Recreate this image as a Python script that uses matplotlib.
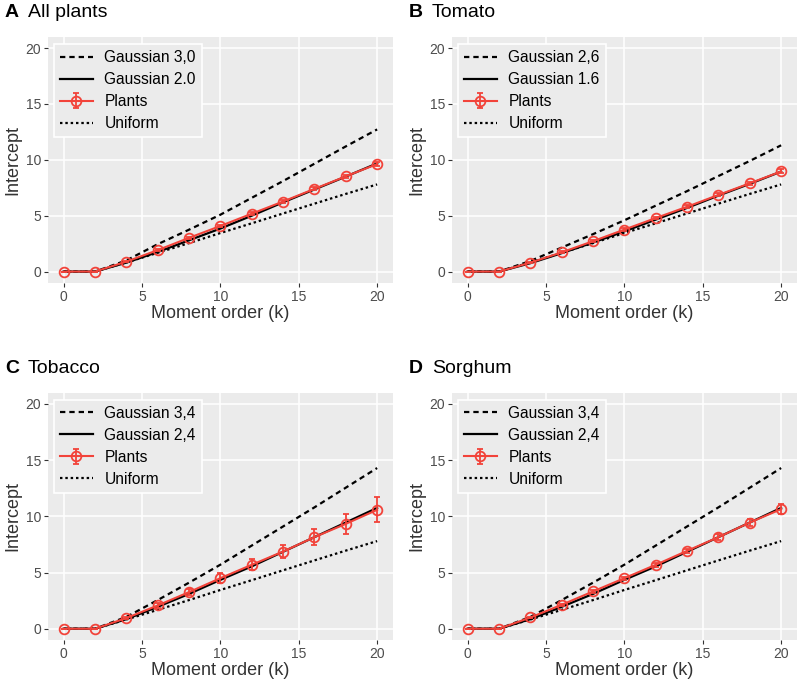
import numpy as np
import matplotlib
matplotlib.use("Agg")
import matplotlib.pyplot as plt

plt.rcParams["font.family"] = ["Liberation Sans", "DejaVu Sans"]

k = [0, 2, 4, 6, 8, 10, 12, 14, 16, 18, 20]

uniform = [0, 0, 0.82, 1.68, 2.55, 3.45, 4.32, 5.2, 6.08, 6.95, 7.8]

# panel A: all plants
a_high = [0, 0, 1.0, 2.45, 3.75, 5.09, 6.6, 8.1, 9.65, 11.2, 12.72]
a_low = [0, 0, 0.8, 1.75, 2.8, 3.85, 5.0, 6.2, 7.35, 8.5, 9.68]
a_plants = [0, 0, 0.89, 1.92, 3.02, 4.08, 5.18, 6.27, 7.40, 8.52, 9.62]
a_err = [0, 0, 0.06, 0.08, 0.1, 0.1, 0.12, 0.12, 0.14, 0.16, 0.2]

# panel B: tomato
b_high = [0, 0, 0.95, 2.15, 3.35, 4.59, 5.9, 7.2, 8.55, 9.9, 11.3]
b_low = [0, 0, 0.75, 1.65, 2.6, 3.6, 4.65, 5.7, 6.8, 7.85, 8.95]
b_plants = [0, 0, 0.80, 1.72, 2.72, 3.76, 4.79, 5.8, 6.86, 7.9, 8.96]
b_err = [0, 0, 0.06, 0.08, 0.1, 0.1, 0.12, 0.12, 0.14, 0.15, 0.18]

# panel C: tobacco
c_high = [0, 0, 1.05, 2.55, 4.1, 5.7, 7.4, 9.1, 10.8, 12.55, 14.3]
c_low = [0, 0, 0.85, 1.95, 3.1, 4.35, 5.55, 6.85, 8.15, 9.45, 10.75]
c_plants = [0, 0, 0.95, 2.07, 3.26, 4.5, 5.69, 6.87, 8.15, 9.33, 10.58]
c_err = [0, 0, 0.12, 0.2, 0.3, 0.45, 0.5, 0.56, 0.7, 0.86, 1.1]

# panel D: sorghum
d_high = c_high
d_low = c_low
d_plants = [0, 0, 1.0, 2.13, 3.32, 4.5, 5.69, 6.93, 8.15, 9.45, 10.64]
d_err = [0, 0, 0.08, 0.1, 0.12, 0.14, 0.16, 0.2, 0.24, 0.35, 0.45]

panels = [
    ("A", "All plants", "Gaussian 3,0", "Gaussian 2.0", a_high, a_low, a_plants, a_err),
    ("B", "Tomato", "Gaussian 2,6", "Gaussian 1.6", b_high, b_low, b_plants, b_err),
    ("C", "Tobacco", "Gaussian 3,4", "Gaussian 2,4", c_high, c_low, c_plants, c_err),
    ("D", "Sorghum", "Gaussian 3,4", "Gaussian 2,4", d_high, d_low, d_plants, d_err),
]

red = "#F2433A"
bg = "#EBEBEB"
grey = "#4D4D4D"

fig = plt.figure(figsize=(8, 6.83), dpi=100)
boxes = [
    [0.060, 0.586, 0.431, 0.360],
    [0.565, 0.586, 0.431, 0.360],
    [0.060, 0.063, 0.431, 0.362],
    [0.565, 0.063, 0.431, 0.362],
]

for box, (letter, name, lab_hi, lab_lo, hi, lo, plants, err) in zip(boxes, panels):
    ax = fig.add_axes(box)
    ax.set_facecolor(bg)
    for s in ax.spines.values():
        s.set_visible(False)
    ax.set_axisbelow(True)
    ax.grid(True, color="white", linewidth=1.1)
    ax.set_xlim(-1, 21)
    ax.set_ylim(-1, 21)
    ax.set_xticks([0, 5, 10, 15, 20])
    ax.set_yticks([0, 5, 10, 15, 20])
    ax.tick_params(colors="#333333", labelcolor=grey, labelsize=10, length=3, width=0.8, pad=2)

    l1, = ax.plot(k, hi, color="black", linestyle=(0, (2.4, 1.8)), linewidth=1.6, label=lab_hi)
    l2, = ax.plot(k, lo, color="black", linestyle="-", linewidth=1.6, label=lab_lo)
    l4, = ax.plot(k, uniform, color="black", linestyle=(0, (1.1, 1.3)), linewidth=1.6, label="Uniform")
    eb = ax.errorbar(k, plants, yerr=err, color=red, linewidth=1.5, marker="o", markersize=7,
                     markerfacecolor="none", markeredgecolor=red, markeredgewidth=1.3,
                     capsize=2.5, elinewidth=1.3, label="Plants")

    ax.set_xlabel("Moment order (k)", fontsize=13, color="#333333", labelpad=1)
    ax.set_ylabel("Intercept", fontsize=13, color="#333333", labelpad=3)

    leg = ax.legend(handles=[l1, l2, eb, l4], loc="upper left", bbox_to_anchor=(0.017, 0.972),
                    borderaxespad=0, fontsize=11.2, frameon=True, fancybox=False,
                    handlelength=2.1, handletextpad=0.75, labelspacing=0.45, borderpad=0.4)
    leg.get_frame().set_facecolor(bg)
    leg.get_frame().set_edgecolor("white")
    leg.get_frame().set_linewidth(1.2)
    leg.get_frame().set_alpha(1)

    fx = box[0] - 0.054
    fy = box[1] + box[3] + 0.035
    fig.text(fx, fy, letter, fontsize=14, fontweight="bold", va="center", ha="left")
    fig.text(fx + 0.029, fy, name, fontsize=14, va="center", ha="left")

fig.savefig("out.png", dpi=100)
